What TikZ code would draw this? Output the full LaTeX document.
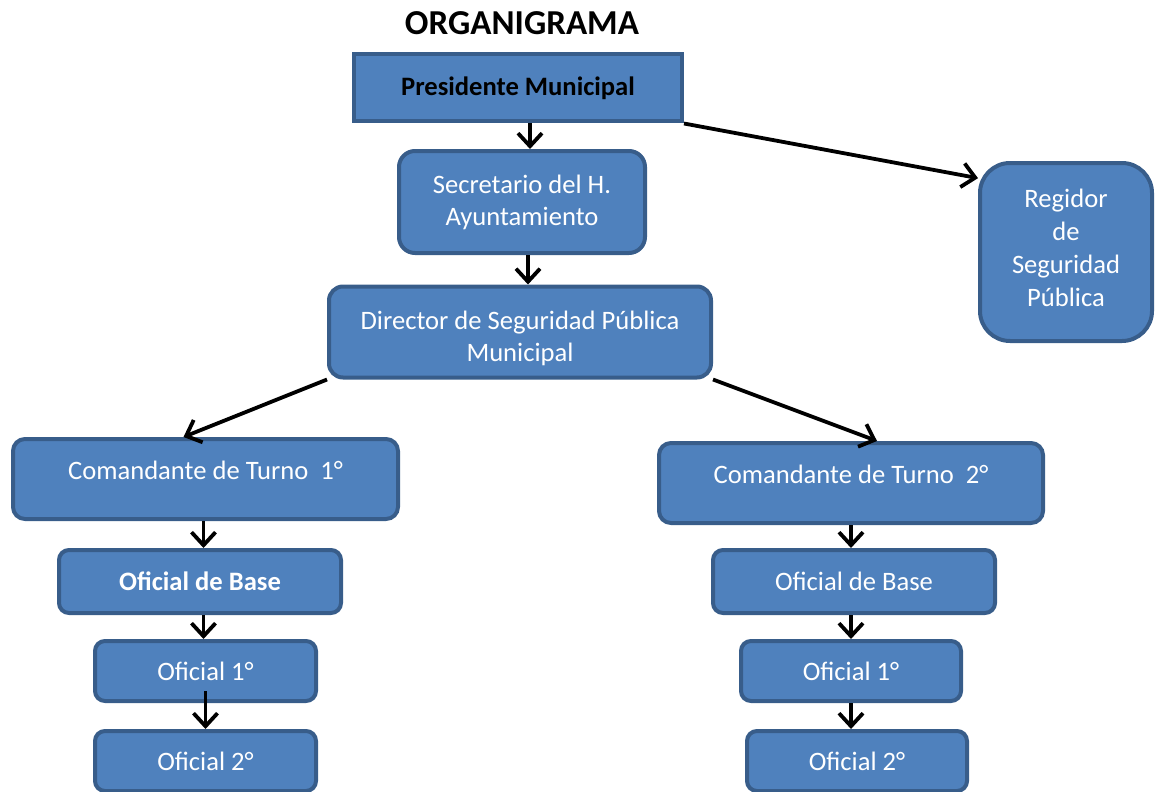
\documentclass[tikz,border=0pt]{standalone}
\usepackage{fontspec}
\setmainfont{Carlito}
\usetikzlibrary{arrows.meta}
\definecolor{azul}{HTML}{4F81BD}
\definecolor{borde}{HTML}{385D8A}
\tikzset{
	caja/.style={draw=borde,fill=azul,line width=2pt,rounded corners=5pt,text=white,align=center,font=\fontsize{13.3}{16}\selectfont,inner sep=0pt},
	flecha/.style={-{Straight Barb[length=6.5pt,width=12pt]},line width=1.9pt}
}
\begin{document}
\begin{tikzpicture}[x=0.5pt,y=-0.5pt]
		\useasboundingbox (0,0) rectangle (1156,792);
		
		\node(0) at (522,23){\fontsize{17.5}{20}\selectfont\bfseries ORGANIGRAMA};
		\node(1) at (518,88)[caja,rounded corners=0pt,text=black,font=\fontsize{13.3}{16}\selectfont\bfseries,minimum width=164pt,minimum height=33.5pt]{Presidente Municipal};
		\node(2) at (522,202)[caja,rounded corners=8pt,minimum width=123pt,minimum height=51pt]{Secretario del H.\\Ayuntamiento};
		\node(3) at (520,332)[caja,rounded corners=7pt,minimum width=191pt,minimum height=45.5pt,text height=31.5pt]{Director de Seguridad Pública\\Municipal};
		\node(4) at (1066,252)[caja,rounded corners=15pt,minimum width=86pt,minimum height=89pt,font=\fontsize{13.3}{16.5}\selectfont,text height=54.5pt]{Regidor\\de\\Seguridad\\Pública};
		\node(5) at (205.5,479)[caja,rounded corners=6pt,minimum width=192.5pt,minimum height=40pt,text depth=9pt]{Comandante de Turno~~1°};
		\node(6) at (851,483)[caja,rounded corners=6pt,minimum width=192pt,minimum height=40pt,text depth=9pt]{Comandante de Turno~~2°};
		\node(7) at (200,581.5)[caja,minimum width=141pt,minimum height=31.5pt,font=\fontsize{13.3}{16}\selectfont\bfseries]{Oficial de Base};
		\node(8) at (854,581.5)[caja,minimum width=141pt,minimum height=31.5pt]{Oficial de Base};
		\node(9) at (205.5,671)[caja,minimum width=110.5pt,minimum height=30pt]{Oficial 1°};
		\node(10) at (851,671)[caja,minimum width=110pt,minimum height=30pt]{Oficial 1°};
		\node(11) at (205.5,761)[caja,minimum width=110.5pt,minimum height=30pt]{Oficial 2°};
		\node(12) at (857,761)[caja,minimum width=110pt,minimum height=30pt]{Oficial 2°};
		
		\draw[flecha] ([xshift=4pt]2.north |- 1.south) -- ([xshift=4pt]2.north);
		\draw[flecha] ([xshift=3pt]2.south) -- ([xshift=3pt]2.south |- 3.north);
		\draw[flecha] (1.south east) -- (4.140);
		\draw[flecha] (3.south west) -- ([xshift=-11pt]5.north);
		\draw[flecha] (3.south east) -- ([xshift=13pt]6.north);
		\draw[flecha] ([xshift=-1pt]5.south) -- ([xshift=-1pt]5.south |- 7.north);
		\draw[flecha] ([xshift=-1pt]9.north |- 7.south) -- ([xshift=-1pt]9.north);
		\draw[flecha, shorten <=-6pt] (9.south) -- (9.south |- 11.north);
		\draw[flecha] (6.south) -- (6.south |- 8.north);
		\draw[flecha] (10.north |- 8.south) -- (10.north);
		\draw[flecha] (10.south) -- (10.south |- 12.north);
		
	\end{tikzpicture}
\end{document}
